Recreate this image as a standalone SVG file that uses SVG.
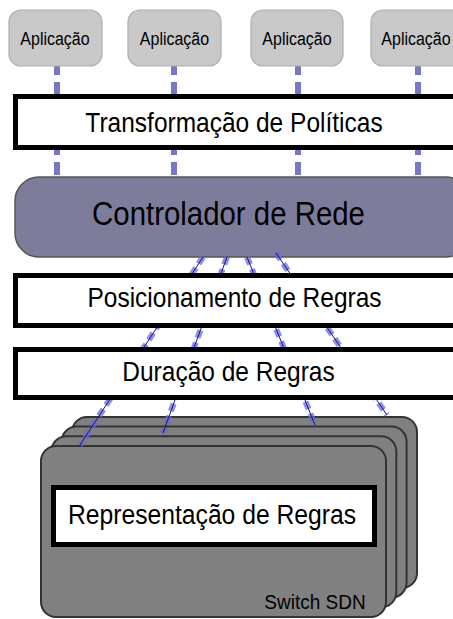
<svg xmlns="http://www.w3.org/2000/svg" width="453" height="619" viewBox="0 0 453 619">
<style>
text{font-family:"Liberation Sans",Arial,sans-serif;fill:#000;text-anchor:middle}
.app{fill:#c9c9c9;stroke:#adadad;stroke-width:1.2}
.box{fill:#fff;stroke:#000;stroke-width:5}
.sw{fill:#808080;stroke:#333;stroke-width:2}
.vl{stroke:#7777c4;stroke-width:6;stroke-dasharray:13 7;fill:none}
.thick{stroke:#6a6ad0;stroke-opacity:0.75;stroke-width:6;stroke-dasharray:8 5;fill:none}
.thin{stroke:#10109a;stroke-width:1;fill:none}
</style>
<rect width="453" height="619" fill="#fff"/>
<g id="switch">
<rect class="sw" x="72" y="417" width="345" height="171" rx="15"/>
<rect class="sw" x="61.6" y="426.6" width="345" height="171" rx="15"/>
<rect class="sw" x="51.3" y="436.3" width="345" height="171" rx="15"/>
<rect class="sw" x="41" y="446" width="345" height="171" rx="15"/>
<text transform="translate(315,609) scale(1,1.1)" font-size="19">Switch SDN</text>
</g>
<g id="controlador">
<rect x="15" y="177" width="455" height="80" rx="24" fill="#7d7d9b" stroke="#555" stroke-width="1.5"/>
<text transform="translate(228.5,225) scale(1,1.1)" font-size="29.4">Controlador de Rede</text>
</g>
<g id="connectors">
<line class="vl" x1="57" y1="62" x2="57" y2="177"/>
<line class="vl" x1="174" y1="62" x2="174" y2="177"/>
<line class="vl" x1="298" y1="62" x2="298" y2="177"/>
<line class="vl" x1="418" y1="62" x2="418" y2="177"/>
<line class="thick" x1="203" y1="257" x2="80" y2="445"/>
<line class="thin" x1="203" y1="257" x2="80" y2="445"/>
<line class="thick" x1="227" y1="257" x2="163" y2="433"/>
<line class="thin" x1="227" y1="257" x2="163" y2="433"/>
<line class="thick" x1="247" y1="257" x2="315" y2="425"/>
<line class="thin" x1="247" y1="257" x2="315" y2="425"/>
<line class="thick" x1="276" y1="253" x2="387" y2="415"/>
<line class="thin" x1="276" y1="253" x2="387" y2="415"/>
</g>
<g id="app1"><rect class="app" x="9" y="10" width="93" height="56" rx="12"/><text transform="translate(55,45) scale(1,1.1)" font-size="16">Aplicação</text></g>
<g id="app2"><rect class="app" x="128" y="10" width="93" height="56" rx="12"/><text transform="translate(174.5,45) scale(1,1.1)" font-size="16">Aplicação</text></g>
<g id="app3"><rect class="app" x="251" y="10" width="92" height="56" rx="12"/><text transform="translate(297,45) scale(1,1.1)" font-size="16">Aplicação</text></g>
<g id="app4"><rect class="app" x="371" y="10" width="93" height="56" rx="12"/><text transform="translate(416,45) scale(1,1.1)" font-size="16">Aplicação</text></g>
<g id="transformacao"><rect class="box" x="15.5" y="96.5" width="460" height="51"/><text transform="translate(234,132) scale(1,1.1)" font-size="24.5">Transformação de Políticas</text></g>
<g id="posicionamento"><rect class="box" x="15.5" y="275.5" width="460" height="50"/><text transform="translate(234.5,307) scale(1,1.1)" font-size="24.5">Posicionamento de Regras</text></g>
<g id="duracao"><rect class="box" x="15.5" y="349.5" width="460" height="48"/><text transform="translate(228.5,381) scale(1,1.1)" font-size="24.5">Duração de Regras</text></g>
<g id="representacao"><rect class="box" x="53.5" y="487.5" width="321" height="57"/><text transform="translate(212,524) scale(1,1.1)" font-size="24.7">Representação de Regras</text></g>
</svg>
